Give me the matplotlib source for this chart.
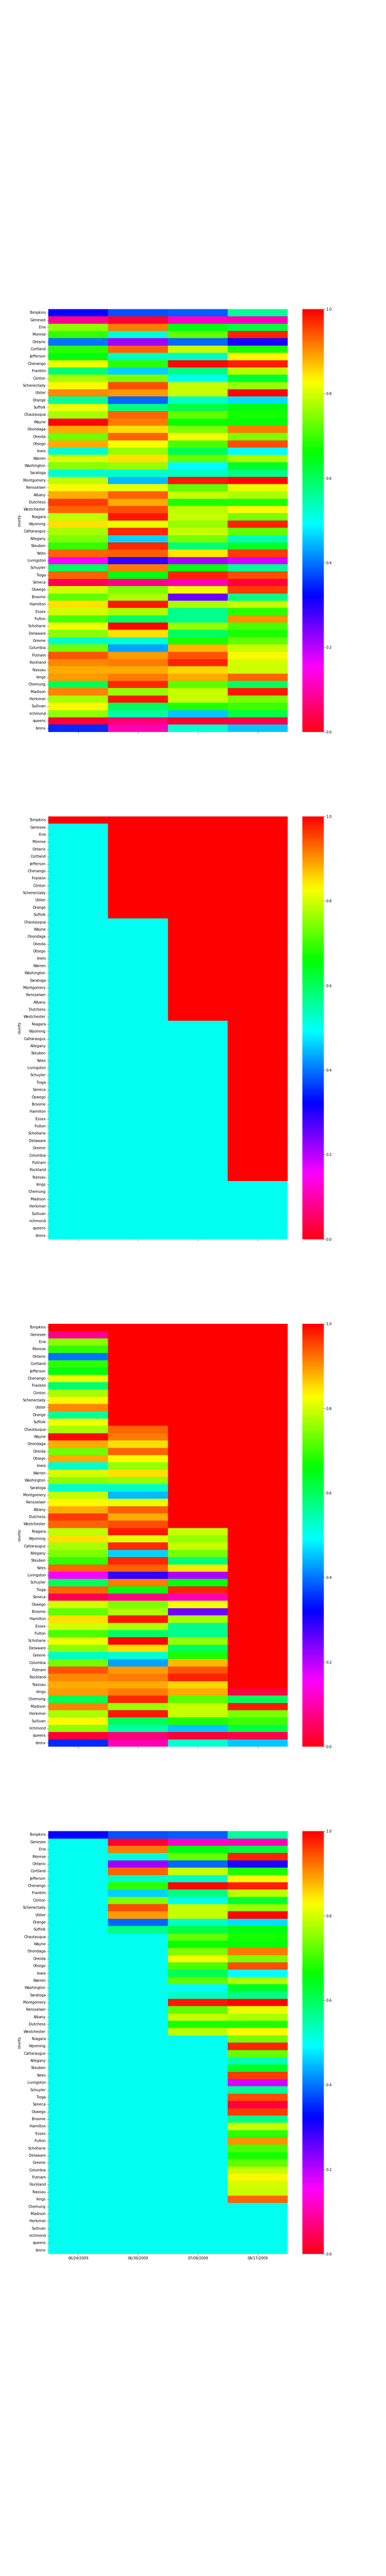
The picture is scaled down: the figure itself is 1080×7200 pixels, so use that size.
import numpy as np
import pandas as pd
import matplotlib
matplotlib.use("Agg")
import matplotlib.pyplot as plt
import seaborn as sns

counties = ["Tompkins", "Genesee", "Erie", "Monroe", "Ontario", "Cortland", "Jefferson",
            "Chenango", "Franklin", "Clinton", "Schenectady", "Ulster", "Orange", "Suffolk",
            "Chautauqua", "Wayne", "Onondaga", "Oneida", "Otsego", "lewis", "Warren",
            "Washington", "Saratoga", "Montgomery", "Rensselaer", "Albany", "Dutchess",
            "Westchester", "Niagara", "Wyoming", "Cattaraugus", "Allegany", "Steuben", "Yates",
            "Livingston", "Schuyler", "Tioga", "Seneca", "Oswego", "Broome", "Hamilton", "Essex",
            "Fulton", "Schoharie", "Delaware", "Greene", "Columbia", "Putnam", "Rockland",
            "Nassau", "kings", "Chemung", "Madison", "Herkimer", "Sullivan", "richmond",
            "queens", "bronx"]

dates = ["06/24/2009", "06/30/2009", "07/08/2009", "08/17/2009"]

v_0624 = [0.32, 0.08, 0.75, 0.694, 0.40, 0.69, 0.656, 0.817, 0.589, 0.771, 0.829, 0.908,
          0.562, 0.817, 0.771, 0.995, 0.883, 0.737, 0.883, 0.526, 0.803, 0.75, 0.526, 0.789,
          0.829, 0.883, 0.958, 0.933, 0.789, 0.851, 0.771, 0.745, 0.694, 0.933, 0.157, 0.599,
          0.933, 0.042, 0.80, 0.724, 0.851, 0.80, 0.708, 0.817, 0.75, 0.531, 0.737, 0.942,
          0.908, 0.883, 0.898, 0.609, 0.911, 0.771, 0.829, 0.756, 0.021, 0.349]

v_0630 = [0.378, 0.021, 0.917, 0.523, 0.218, 0.933, 0.533, 0.688, 0.464, 0.745, 0.947, 0.898,
          0.393, 0.578, 0.933, 0.917, 0.848, 0.933, 0.827, 0.761, 0.848, 0.761, 0.531, 0.448,
          0.813, 0.937, 0.883, 0.947, 0.984, 0.813, 0.969, 0.464, 0.969, 0.937, 0.292, 0.917,
          0.656, 0.078, 0.745, 0.776, 0.984, 0.776, 0.594, 0.995, 0.848, 0.52, 0.433, 0.898,
          0.917, 0.883, 0.917, 0.969, 0.761, 0.984, 0.599, 0.553, 0.063, 0.106]

v_0708 = [0.386, 0.115, 0.651, 0.724, 0.391, 0.792, 0.533, 0.995, 0.578, 0.50, 0.792, 0.792,
          0.533, 0.614, 0.724, 0.667, 0.745, 0.824, 0.708, 0.609, 0.724, 0.49, 0.533, 0.984,
          0.724, 0.792, 0.678, 0.782, 0.792, 0.761, 0.792, 0.742, 0.583, 0.844, 0.208, 0.656,
          0.974, 0.106, 0.824, 0.25, 0.771, 0.567, 0.567, 0.761, 0.599, 0.678, 0.875, 0.942,
          0.974, 0.859, 0.883, 0.719, 0.792, 0.792, 0.683, 0.456, 0.021, 0.52]

v_0817 = [0.562, 0.106, 0.619, 0.974, 0.307, 0.678, 0.829, 0.979, 0.782, 0.625, 0.761, 0.995,
          0.471, 0.656, 0.672, 0.66, 0.917, 0.745, 0.947, 0.495, 0.776, 0.636, 0.573, 0.995,
          0.813, 0.776, 0.678, 0.829, 0.742, 0.974, 0.724, 0.542, 0.636, 0.96, 0.182, 0.562,
          0.947, 0.026, 0.96, 0.573, 0.79, 0.688, 0.90, 0.708, 0.678, 0.724, 0.792, 0.829,
          0.80, 0.795, 0.933, 0.60, 0.984, 0.74, 0.70, 0.614, 0.035, 0.456]

# number of leading rows flagged (panel 2 red / panel 3 filled) per date
n_flag_rows = [1, 14, 28, 50]
# number of leading rows whose values are shown in panel 4 per date
n_shown_rows = [1, 14, 28, 51]
# panel 3 value for kings on 08/17/2009
kings_0817_panel3 = 0.03

values = np.column_stack([v_0624, v_0630, v_0708, v_0817])
n = len(counties)
row_idx = np.arange(n)[:, None]
flag = row_idx < np.array(n_flag_rows)[None, :]
shown = row_idx < np.array(n_shown_rows)[None, :]

p1 = values
p2 = np.where(flag, 1.0, 0.5)
p3 = np.where(flag, 1.0, values)
p3[counties.index("kings"), 3] = kings_0817_panel3
p4 = np.where(shown, values, 0.5)

fig, axes = plt.subplots(4, 1, figsize=(15, 100), dpi=72, sharex=True)
fig.subplots_adjust(left=0.125, right=0.9, top=0.88, bottom=0.125, hspace=0.2)
for ax, data in zip(axes, [p1, p2, p3, p4]):
    df = pd.DataFrame(data, index=pd.Index(counties, name="county"), columns=dates)
    sns.heatmap(df, ax=ax, cmap="hsv_r", vmin=0, vmax=1,
                xticklabels=True, yticklabels=True)
    ax.set_ylabel("county")

fig.savefig("out.png", dpi=72)
